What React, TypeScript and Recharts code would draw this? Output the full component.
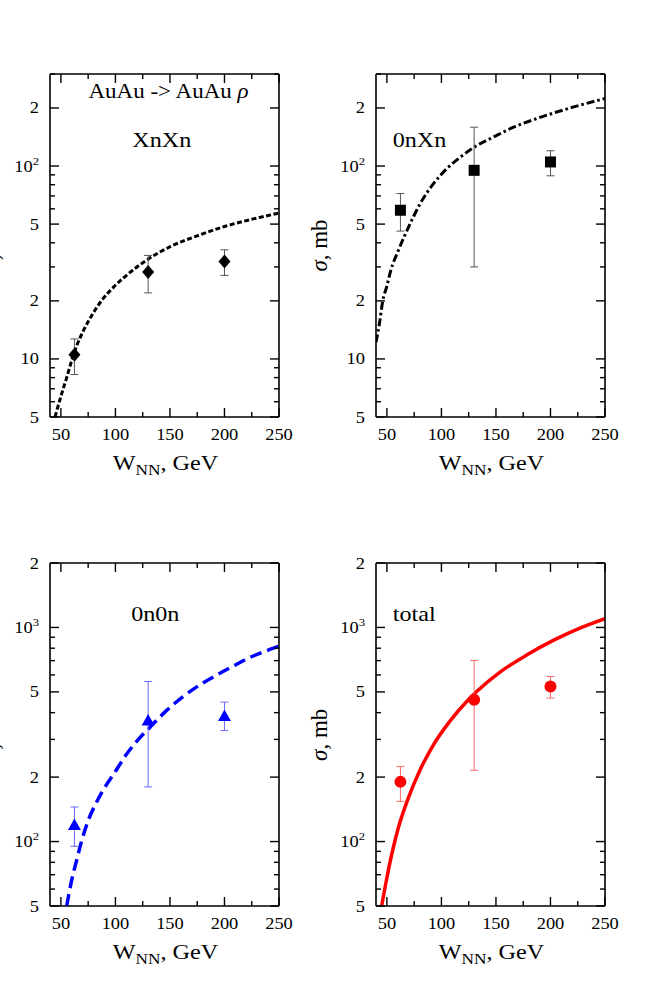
import React from 'react';
import { ComposedChart, Line, Scatter, XAxis, YAxis, ErrorBar } from 'recharts';

// ---------------- data ----------------
const X_DOMAIN: [number, number] = [40, 250];
const X_TICKS = [50, 75, 100, 125, 150, 175, 200, 225, 250];
const X_MAJOR = [50, 100, 150, 200, 250];

const TOP_Y_DOMAIN: [number, number] = [5, 300];
const TOP_Y_TICKS = [5, 6, 7, 8, 9, 10, 20, 30, 40, 50, 60, 70, 80, 90, 100, 200, 300];
const TOP_Y_LABELS: Record<number, string[]> = { 5: ['5'], 10: ['10'], 20: ['2'], 50: ['5'], 100: ['10', '2'], 200: ['2'] };

const BOT_Y_DOMAIN: [number, number] = [50, 2000];
const BOT_Y_TICKS = [50, 60, 70, 80, 90, 100, 200, 300, 400, 500, 600, 700, 800, 900, 1000, 2000];
const BOT_Y_LABELS: Record<number, string[]> = { 50: ['5'], 100: ['10', '2'], 200: ['2'], 500: ['5'], 1000: ['10', '3'], 2000: ['2'] };

// measured points (W_NN = 62.4, 130, 200 GeV)
const DATA_W = [62.4, 130, 200];

const XNXN_V = [10.5, 28.2, 32];
const XNXN_LO = [8.3, 22, 27.1];
const XNXN_HI = [12.7, 34.4, 36.8];

const ONXN_V = [59, 95, 105];
const ONXN_LO = [46, 30, 89];
const ONXN_HI = [72, 159, 120];

const ON0N_V = [119, 366, 384];
const ON0N_LO = [95, 180, 330];
const ON0N_HI = [145, 559, 448];

const TOTAL_V = [190, 459, 530];
const TOTAL_LO = [154, 215, 468];
const TOTAL_HI = [224, 701, 590];

// theory curves
const XNXN_CURVE_W = [44.6, 50.7, 55.3, 59.9, 64.5, 70.6, 78.3, 87.4, 98.1, 113.4, 130.2, 150.7, 177.6, 200, 226.5, 250];
const XNXN_CURVE_V = [5.0, 6.6, 8.0, 9.8, 11.7, 14.0, 16.8, 20.1, 23.5, 28.1, 33.0, 38.3, 44.0, 48.6, 53.2, 57.0];

const ONXN_CURVE_W = [40, 43.1, 46.2, 49.9, 53.5, 60.5, 71.3, 80.5, 92.7, 105, 117.2, 129.4, 147.8, 166.2, 184.6, 203, 221.4, 250];
const ONXN_CURVE_V = [12.2, 15.2, 20, 23.8, 28.7, 36.5, 50.2, 63.8, 81, 97, 111, 124.6, 141.5, 159, 174, 188.5, 202.5, 224];

const ON0N_CURVE_W = [55.3, 59.9, 64.5, 69.1, 75.2, 82.8, 92, 98, 108.8, 119.5, 131.7, 147, 162, 177.6, 193, 208, 223.5, 239, 250];
const ON0N_CURVE_V = [50, 66, 82, 101, 126, 153, 185, 205, 250, 294, 342, 410, 475, 540, 600, 660, 725, 780, 818];

const TOTAL_CURVE_W = [45.2, 49.8, 54.4, 60.5, 69.7, 80.4, 92.7, 108, 123.4, 132.6, 154, 178.5, 203, 227.5, 250];
const TOTAL_CURVE_V = [50, 67, 87, 116, 160, 216, 283, 366, 452, 503, 620, 745, 872, 995, 1100];

// ---------------- style ----------------
const FONT = '"Liberation Serif", "Times New Roman", Times, serif';
const S = 1.15; // horizontal text stretch of the original figure
const BLUE = '#0000ff';
const RED = '#ff0000';
const CHART_W = 330;
const CHART_H = 470;
const PLOT_L = 76;
const PLOT_T = 34;
const PLOT_W = 229;
const PLOT_H = 343;

const buildCurve = (w: number[], v: number[]) => w.map((x, i) => ({ w: x, v: v[i] }));
const buildPoints = (v: number[], lo: number[], hi: number[]) =>
  DATA_W.map((x, i) => ({ w: x, v: v[i], err: [v[i] - lo[i], hi[i] - v[i]] }));

const diamond = (p: any) => (
  <path d={`M${p.cx},${p.cy - 7}L${p.cx + 6},${p.cy}L${p.cx},${p.cy + 7}L${p.cx - 6},${p.cy}Z`} fill="#000" />
);
const square = (p: any) => <rect x={p.cx - 5.5} y={p.cy - 5.5} width={11} height={11} fill="#000" />;
const triangle = (p: any) => (
  <path d={`M${p.cx},${p.cy - 7}L${p.cx + 6.5},${p.cy + 4.5}L${p.cx - 6.5},${p.cy + 4.5}Z`} fill={BLUE} />
);
const circle = (p: any) => <circle cx={p.cx} cy={p.cy} r={6} fill={RED} />;

const XTickBottom = (props: any) => {
  const { x, y, payload } = props;
  const v = payload.value;
  const major = X_MAJOR.includes(v);
  return (
    <g>
      <line x1={x} x2={x} y1={y} y2={y - (major ? 9 : 5)} stroke="#000" strokeWidth={1.4} />
      {major && (
        <text transform={`translate(${x},${y + 23}) scale(${S},1)`} textAnchor="middle" fontSize={16} fontFamily={FONT} fill="#000">
          {v}
        </text>
      )}
    </g>
  );
};

const XTickTop = (props: any) => {
  const { x, y, payload } = props;
  const major = X_MAJOR.includes(payload.value);
  return <line x1={x} x2={x} y1={y} y2={y + (major ? 9 : 5)} stroke="#000" strokeWidth={1.4} />;
};

const makeYTickLeft = (labels: Record<number, string[]>) => (props: any) => {
  const { x, y, payload } = props;
  const lab = labels[payload.value];
  return (
    <g>
      <line x1={x} x2={x + (lab ? 9 : 5)} y1={y} y2={y} stroke="#000" strokeWidth={1.4} />
      {lab && (
        <text transform={`translate(${x - 11},${y + 5.5}) scale(${S},1)`} textAnchor="end" fontSize={16} fontFamily={FONT} fill="#000">
          {lab[0]}
          {lab[1] && (
            <tspan dy={-7} fontSize={11}>
              {lab[1]}
            </tspan>
          )}
        </text>
      )}
    </g>
  );
};

const makeYTickRight = (labels: Record<number, string[]>) => (props: any) => {
  const { x, y, payload } = props;
  const lab = labels[payload.value];
  return <line x1={x} x2={x - (lab ? 9 : 5)} y1={y} y2={y} stroke="#000" strokeWidth={1.4} />;
};

type PanelCfg = {
  ox: number;
  oy: number;
  titleX: number;
  curve: { w: number; v: number }[];
  points: { w: number; v: number; err: number[] }[];
  yDomain: [number, number];
  yTicks: number[];
  yLabels: Record<number, string[]>;
  stroke: string;
  strokeWidth: number;
  dash?: string;
  shape: (p: any) => React.ReactElement;
  errColor: string;
};

const PANELS: PanelCfg[] = [
  {
    ox: -26, oy: 40, titleX: -1.5,
    curve: buildCurve(XNXN_CURVE_W, XNXN_CURVE_V),
    points: buildPoints(XNXN_V, XNXN_LO, XNXN_HI),
    yDomain: TOP_Y_DOMAIN, yTicks: TOP_Y_TICKS, yLabels: TOP_Y_LABELS,
    stroke: '#000', strokeWidth: 3, dash: '5 2.5', shape: diamond, errColor: '#555',
  },
  {
    ox: 300, oy: 40, titleX: 327,
    curve: buildCurve(ONXN_CURVE_W, ONXN_CURVE_V),
    points: buildPoints(ONXN_V, ONXN_LO, ONXN_HI),
    yDomain: TOP_Y_DOMAIN, yTicks: TOP_Y_TICKS, yLabels: TOP_Y_LABELS,
    stroke: '#000', strokeWidth: 3, dash: '8 3 2.5 3', shape: square, errColor: '#555',
  },
  {
    ox: -26, oy: 529.3, titleX: -1.5,
    curve: buildCurve(ON0N_CURVE_W, ON0N_CURVE_V),
    points: buildPoints(ON0N_V, ON0N_LO, ON0N_HI),
    yDomain: BOT_Y_DOMAIN, yTicks: BOT_Y_TICKS, yLabels: BOT_Y_LABELS,
    stroke: BLUE, strokeWidth: 3.5, dash: '12 6', shape: triangle, errColor: '#6a6aff',
  },
  {
    ox: 300, oy: 529.3, titleX: 327,
    curve: buildCurve(TOTAL_CURVE_W, TOTAL_CURVE_V),
    points: buildPoints(TOTAL_V, TOTAL_LO, TOTAL_HI),
    yDomain: BOT_Y_DOMAIN, yTicks: BOT_Y_TICKS, yLabels: BOT_Y_LABELS,
    stroke: RED, strokeWidth: 3.5, shape: circle, errColor: '#ff6a6a',
  },
];

const axisLine = { stroke: '#000', strokeWidth: 1.6 };

function Panel({ cfg }: { cfg: PanelCfg }) {
  return (
    <div style={{ position: 'absolute', left: cfg.ox, top: cfg.oy, width: CHART_W, height: CHART_H }}>
      <ComposedChart width={CHART_W} height={CHART_H} margin={{ top: PLOT_T - 10, left: PLOT_L - 40, right: CHART_W - PLOT_L - PLOT_W - 10, bottom: CHART_H - PLOT_T - PLOT_H - 60 }}>
        <XAxis xAxisId="b" type="number" dataKey="w" domain={X_DOMAIN} ticks={X_TICKS} interval={0} allowDataOverflow
          tickSize={0} tickMargin={0} tickLine={false} axisLine={axisLine} height={60} tick={XTickBottom} />
        <XAxis xAxisId="t" orientation="top" type="number" dataKey="w" domain={X_DOMAIN} ticks={X_TICKS} interval={0} allowDataOverflow
          tickSize={0} tickMargin={0} tickLine={false} axisLine={axisLine} height={10} tick={XTickTop} />
        <YAxis yAxisId="l" type="number" scale="log" domain={cfg.yDomain} ticks={cfg.yTicks} interval={0} allowDataOverflow
          tickSize={0} tickMargin={0} tickLine={false} axisLine={axisLine} width={40} tick={makeYTickLeft(cfg.yLabels)} />
        <YAxis yAxisId="r" orientation="right" type="number" scale="log" domain={cfg.yDomain} ticks={cfg.yTicks} interval={0} allowDataOverflow
          tickSize={0} tickMargin={0} tickLine={false} axisLine={axisLine} width={10} tick={makeYTickRight(cfg.yLabels)} />
        <Line xAxisId="b" yAxisId="l" data={cfg.curve} dataKey="v" type="monotone" dot={false} activeDot={false}
          stroke={cfg.stroke} strokeWidth={cfg.strokeWidth} strokeDasharray={cfg.dash} isAnimationActive={false} />
        <Scatter xAxisId="b" yAxisId="l" data={cfg.points} dataKey="v" shape={cfg.shape} isAnimationActive={false}>
          <ErrorBar dataKey="err" direction="y" width={4} stroke={cfg.errColor} strokeWidth={1} isAnimationActive={false} />
        </Scatter>
      </ComposedChart>
    </div>
  );
}

function Titles() {
  const txt = (x: number, y: number, anchor: string, size: number, children: React.ReactNode, key: string) => (
    <text key={key} transform={`translate(${x},${y}) scale(${S},1)`} textAnchor={anchor} fontSize={size} fontFamily={FONT} fill="#000">
      {children}
    </text>
  );
  const items: React.ReactNode[] = [];
  PANELS.forEach((p, i) => {
    const cx = p.ox + PLOT_L + PLOT_W / 2 + 1;
    const by = p.oy + PLOT_T + PLOT_H + 53;
    items.push(
      txt(cx, by, 'middle', 21, (
        <>
          W<tspan dy={5} fontSize={15}>NN</tspan>
          <tspan dy={-5}>, GeV</tspan>
        </>
      ), `xt${i}`)
    );
    items.push(
      <text key={`yt${i}`} transform={`translate(${p.titleX},${p.oy + PLOT_T + PLOT_H / 2}) rotate(-90)`} textAnchor="middle" fontSize={23} fontFamily={FONT} fill="#000">
        <tspan fontStyle="italic">σ</tspan>, mb
      </text>
    );
  });
  items.push(txt(168.5, 98, 'middle', 20, (<>AuAu -&gt; AuAu <tspan fontStyle="italic">ρ</tspan></>), 'a1'));
  items.push(txt(161.7, 147.3, 'middle', 21, 'XnXn', 'a2'));
  items.push(txt(392.7, 147.3, 'start', 21, '0nXn', 'a3'));
  items.push(txt(155.3, 620.5, 'middle', 21, '0n0n', 'a4'));
  items.push(txt(392.7, 620.5, 'start', 21, 'total', 'a5'));
  return (
    <svg width={654} height={981} style={{ position: 'absolute', left: 0, top: 0, pointerEvents: 'none' }}>
      {items}
    </svg>
  );
}

export default function App() {
  return (
    <div style={{ position: 'absolute', left: 0, top: 0, width: 654, height: 981, overflow: 'hidden', background: '#fff' }}>
      {PANELS.map((p, i) => (
        <Panel key={i} cfg={p} />
      ))}
      <Titles />
    </div>
  );
}
